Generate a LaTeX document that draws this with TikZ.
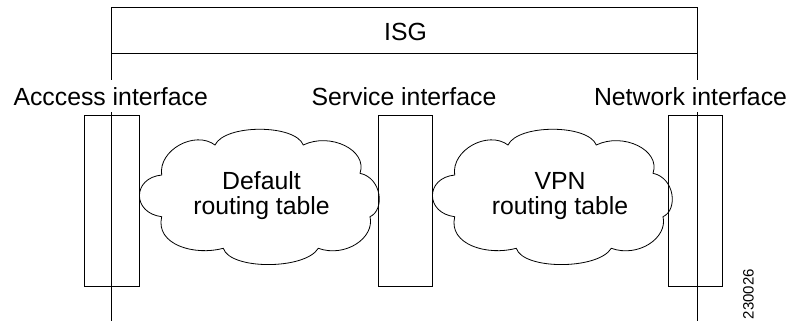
\documentclass[tikz,border=0pt]{standalone}
\usepackage{fontspec}
\setmainfont{Liberation Sans}
\begin{document}
\begin{tikzpicture}[x=1pt,y=-1pt,line width=0.9pt,
  ifbox/.style={draw,inner sep=0pt,minimum height=171pt},
  lbl/.style={inner sep=0pt,anchor=base,font=\fontsize{24.8}{24.8}\selectfont},
  cloudline/.style={draw,line width=0.8pt}]
\useasboundingbox (0,0) rectangle (789,321);
% ISG box
\node[draw,inner sep=0pt,minimum width=586pt,minimum height=45.5pt] (isgbox) at (404,30.25) {};
\node[lbl] (isg) at (405.5,41) {ISG};
% vertical lines
\coordinate (lt1) at (111,53);
\coordinate (lt2) at (111,80);
\coordinate (lb1) at (111,112);
\coordinate (lb2) at (111,321);
\coordinate (rt1) at (697,53);
\coordinate (rt2) at (697,80);
\coordinate (rb1) at (697,112);
\coordinate (rb2) at (697,321);
\draw (lt1) -- (lt2);
\draw (lb1) -- (lb2);
\draw (rt1) -- (rt2);
\draw (rb1) -- (rb2);
% labels
\node[lbl] (acclbl) at (110.7,105) {Acccess interface};
\node[lbl] (svclbl) at (404,105) {Service interface};
\node[lbl] (netlbl) at (690.5,105) {Network interface};
% interface boxes
\node[ifbox,minimum width=55pt] (acc) at (111.6,200.5) {};
\node[ifbox,minimum width=54pt] (svc) at (405,200.5) {};
\node[ifbox,minimum width=54.5pt] (net) at (695.5,200.5) {};
% clouds
\foreach \dx in {0,293}{
\begin{scope}[xshift=\dx pt]
\draw[cloudline] (161.7,175) .. controls (158,150) and (195,130) .. (215,145)
  .. controls (225,124) and (295,124) .. (303.3,145)
  .. controls (330,132) and (368,150) .. (360,173.3)
  .. controls (382,178) and (385,210) .. (370,216.7)
  .. controls (375,238) and (345,258) .. (318.3,248.3)
  .. controls (305,270) and (230,270) .. (223.3,248.3)
  .. controls (195,256) and (155,245) .. (161.7,216.7)
  .. controls (132,213) and (132,178) .. cycle;
\end{scope}
}
\node[lbl] (deft1) at (261.5,189.3) {Default};
\node[lbl] (deft2) at (261.5,214.3) {routing table};
\node[lbl] (vpnt1) at (560,189.3) {VPN};
\node[lbl] (vpnt2) at (560,214.3) {routing table};
% id
\node[inner sep=0pt,rotate=90,font=\fontsize{15}{15}\selectfont] (fig) at (748.5,294) {230026};
\end{tikzpicture}
\end{document}
